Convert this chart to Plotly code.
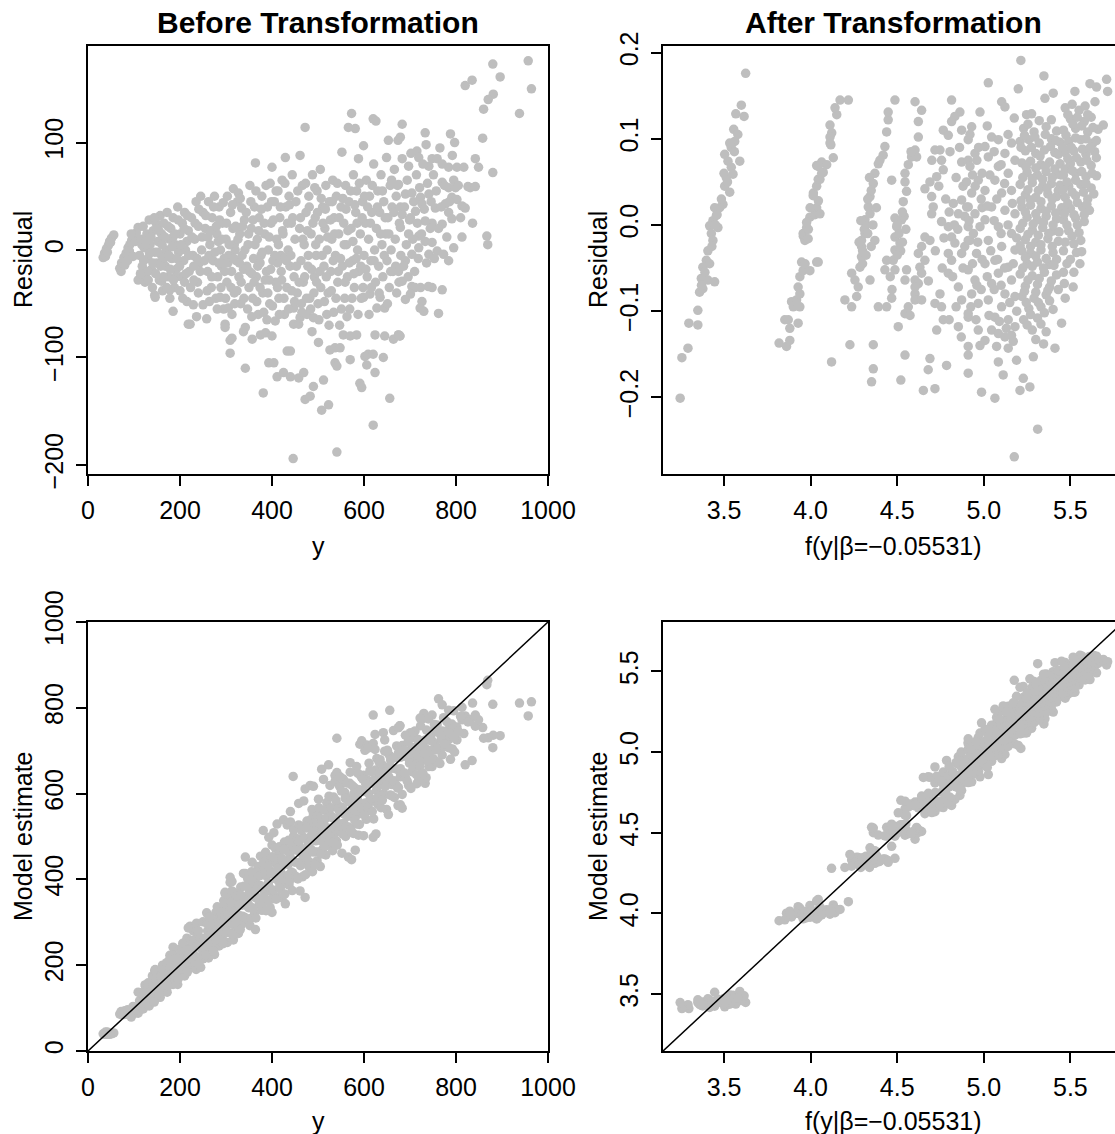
import plotly.graph_objects as go

# ---------------- data: BEFORE transformation (y, residual) ----------------
tl_a = [(33,-7),(36,-3),(40,1),(44,4),(47,8),(51,11),(56,14),(38,-6),(42,-2),(49,7)]
tl_b = [(69,-17),(73,-12),(78,-7),(83,-3),(87,2),(91,5),(95,9),(100,12),(105,16),(109,21),
        (72,-20),(80,-14),(90,-1),(98,-6),(103,8),(86,-10),(94,15)]
tl_c = [(112,-5),(115,10),(118,-15),(120,22),(122,2),(125,-25),(128,15),(130,-8),(133,28),(135,5),
        (138,-18),(140,-35),(142,18),(145,-2),(145,-42),(148,25),(150,-12),(152,8),(155,-28),(157,32),
        (160,-5),(160,15),(162,-38),(165,25),(168,-15),(170,0),(172,35),(175,-25),(177,10),(178,-45),
        (180,20),(182,-8),(185,-57),(185,30),(188,-35),(190,5),(192,-18),(195,40),(197,-2),(200,15),
        (200,-38),(203,-25),(205,25),(208,-10),(210,35),(212,0),(215,-48),(218,18),(220,-20),(222,-69),
        (225,30),(228,-5),(229,-51),(232,10),(235,45),(236,-62),(238,-30),(240,22),(242,-12),(245,50),
        (247,0),(250,-51),(250,35),(109,-28),(124,-30),(146,-44),(160,-29),(178,-37),(218,-69),
        (130,-20),(165,-8),(190,-25),(210,-30),(230,-15),(150,20),(185,12),(215,8),(240,-40)]
tl_c_fill = [(114,-22),(117,5),(121,-10),(126,8),(131,-28),(134,-3),(137,12),(141,-12),(144,30),(147,-22),
             (151,-2),(154,18),(158,-15),(161,5),(164,-25),(167,12),(171,-35),(174,22),(176,-5),(179,-18),
             (183,3),(186,-28),(189,15),(193,-8),(196,28),(199,-15),(202,5),(206,-45),(209,20),(213,-22),
             (216,32),(219,-5),(223,-35),(226,12),(230,-28),(233,25),(237,-8),(241,38),(244,-20),(248,12)]
tl_d = [(255,20),(258,-64),(260,-20),(262,45),(265,5),(268,-35),(270,30),(272,-10),(275,50),(278,-45),
        (280,15),(282,-25),(285,40),(287,-44),(288,0),(290,-15),(292,25),(295,-55),(298,-69),(298,-72),
        (300,10),(302,-30),(303,50),(305,-54),(306,-5),(309,-84),(309,-96),(310,35),(312,-20),(313,-60),
        (313,-82),(315,20),(316,57),(318,-40),(320,0),(322,-10),(325,45),(327,53),(328,-25),(330,15),
        (332,-50),(334,39),(335,-5),(338,-76),(340,28),(342,-110),(342,-72),(345,-15),(348,5),(350,-35),
        (352,60),(355,20),(357,-83),(358,-45),(360,-8),(362,40),(364,81),(366,-25),(368,10),(370,-60),
        (372,30),(375,-79),(376,-5),(378,50),(380,-40),(381,-133),(384,15),(386,-77),(388,-20),(389,-65),
        (390,40),(392,0),(393,-105),(395,-50),(396,62),(398,25),(400,77),(400,-80),(402,-10),(404,-105),
        (405,45),(407,-66),(408,-30),(410,10),(411,-118),(413,55),(415,-45),(417,30),(419,-5),(420,-20),
        (422,65),(424,15),(425,-114),(427,-60),(429,86),(430,40),(432,-35),(433,-94),(435,0),(437,50),
        (439,-15),(440,-118),(440,-94),(442,25),(444,70),(446,-194),(447,-54),(447,-69),(448,-25),(450,10),
        (263,-5),(283,8),(296,-8),(318,5),(338,-18),(356,-22),(374,-12),(394,-28),(412,-12),(428,-8)]
tl_d_fill = [(253,-10),(256,32),(259,-38),(261,12),(264,-48),(267,18),(269,-25),(273,40),(276,-2),(279,22),
             (281,-55),(284,-12),(286,28),(289,-35),(291,10),(294,44),(297,-20),(299,-45),(301,25),(304,-12),
             (307,5),(311,-35),(314,42),(317,-8),(319,-50),(321,22),(324,-38),(326,10),(329,-12),(331,48),
             (333,-30),(336,22),(339,-45),(341,0),(344,35),(347,-55),(349,15),(351,-20),(354,45),(356,-62),
             (359,28),(361,-30),(363,5),(365,55),(367,-48),(369,-15),(371,18),(374,-35),(377,38),(379,-2),
             (382,-58),(383,25),(385,-28),(387,60),(391,-40),(394,12),(397,-18),(399,45),(401,-52),(403,28),
             (406,-5),(409,55),(412,-35),(414,5),(416,-60),(418,40),(421,-28),(423,18),(426,-45),(428,62),
             (431,-10),(434,25),(436,-55),(438,42),(441,-5),(443,-38),(445,30),(449,-48)]
tl_e = [(452,45),(455,-40),(458,-119),(458,-69),(460,20),(461,88),(461,-63),(463,-10),(465,-58),(466,60),
        (468,-30),(469,-114),(470,5),(472,114),(472,-139),(474,35),(476,-60),(478,-15),(480,50),(482,-45),
        (483,-136),(485,15),(487,-76),(488,70),(490,-127),(490,-63),(492,-25),(494,30),(496,-5),(498,55),
        (500,-50),(501,-86),(503,10),(505,75),(506,-35),(508,-149),(510,40),(512,-121),(513,-15),(515,20),
        (517,60),(519,-60),(520,0),(522,-40),(523,-144),(525,45),(526,-93),(528,-20),(530,10),(532,65),
        (534,-58),(535,30),(537,-105),(537,-91),(538,-5),(540,50),(541,-188),(541,-108),(543,-30),(545,15),
        (547,-70),(548,-91),(550,40),(552,91),(553,-15),(555,-79),(556,25),(558,-45),(560,60),(562,5),
        (564,-25),(566,114),(567,45),(569,-55),(570,-80),(570,-102),(572,20),(573,127),(575,-10),(577,70),
        (579,-35),(581,113),(582,35),(584,-79),(584,55),(586,0),(588,85),(589,-20),(591,-124),(592,15),
        (594,-45),(595,-128),(597,45),(599,97),(599,-44),(600,-5),(602,-99),(603,25),(605,65),(606,-107),
        (607,-25),(609,-97),(610,10),(612,50),(613,-41),(615,-10),(617,35),(620,122),(620,-97),(620,-163),
        (621,80),(623,0),(624,-79),(624,-114),(625,-30),(626,120),(627,20),(628,-54),(630,55),(632,-15),
        (634,35),(635,-44),(637,70),(639,5),(641,-25),(642,-100),(643,45),(645,-54),(645,-80),(647,15),
        (649,86),(650,-10),(652,30),(653,102),(655,-35),(656,-138),(657,60),(659,0),(661,40),(663,-20),
        (664,-83),(666,75),(668,10),(670,50),(671,-40),(674,102),(675,-79),(677,25),(678,-80),(680,-5)]
tl_e_fill = [(453,-15),(456,55),(459,-30),(462,30),(464,-50),(467,10),(471,-25),(473,62),(475,-45),(477,18),
             (479,-5),(481,40),(484,-55),(486,-18),(489,25),(491,-40),(493,58),(495,5),(497,-30),(499,35),
             (502,-65),(504,-20),(507,48),(509,-5),(511,25),(514,-48),(516,38),(518,-25),(521,12),(524,-70),
             (527,28),(529,-38),(531,45),(533,-10),(536,15),(539,-45),(542,62),(544,-20),(546,30),(549,-8),
             (551,-55),(554,48),(557,5),(559,-30),(561,38),(563,-62),(565,18),(568,-12),(571,55),(574,-45),
             (576,8),(578,-22),(580,42),(583,-8),(585,25),(587,-60),(590,62),(593,-15),(596,30),(598,-35),
             (601,50),(604,-18),(608,40),(611,-60),(614,25),(616,-35),(618,60),(622,-10),(629,40),(633,-40),
             (636,15),(640,55),(644,-5),(646,30),(651,-50),(654,15),(658,-20),(660,65),(665,35),(669,-15),
             (673,60),(676,-30),(679,40)]
tl_f = [(683,117),(679,105),(733,109),(735,98),(788,108),(797,100),(715,92),(719,86),(748,85),(759,85),
        (770,80),(784,77),(802,77),(817,77),(741,78),(683,85),(697,78),(675,61),(690,52),(704,53),
        (723,49),(741,52),(770,63),(784,58),(799,58),(791,49),(802,47),(813,41),(820,39),(777,43),
        (755,39),(726,43),(712,36),(784,35),(791,29),(770,24),(748,25),(733,27),(701,30),(683,33),
        (679,21),(697,15),(719,13),(733,8),(748,7),(759,-1),(773,-4),(784,-10),(741,-4),(719,2),
        (704,-4),(690,-10),(675,-20),(683,-29),(704,-34),(723,-35),
        (957,176),(964,150),(938,127),(880,173),(896,161),(881,145),(870,140),(860,131),(820,153),(835,158),
        (858,104),(880,72),(842,85),(849,77),(831,58),(836,25),(813,12),(867,13),(869,5),(795,2),
        (762,-59),(770,-37),(748,-35),(726,-48),(730,-57),(711,-35),(701,-41),(690,-46),(675,-79),(678,-80),
        (826,59),(842,59),(740,-34),(722,-54)]
tl_f_fill = [(686,-15),(688,40),(692,5),(694,65),(696,-25),(699,28),(702,90),(706,10),(708,45),(710,-20),
             (714,70),(716,25),(718,-8),(721,58),(725,15),(728,80),(731,38),(736,-12),(738,62),(744,20),
             (746,45),(751,70),(753,-8),(757,55),(762,20),(765,95),(768,40),(775,60),(780,12),(786,45),
             (792,88),(795,65),(805,60),(810,30)]

# ---------------- data: AFTER transformation (f(y), residual) ----------------
tr_b1 = [(3.625,0.176),(3.600,0.139),(3.568,0.129),(3.616,0.126),(3.556,0.111),(3.562,0.097),(3.542,0.090),
         (3.533,0.095),(3.504,0.082),(3.591,0.074),(3.523,0.074),(3.542,0.067),(3.552,0.059),(3.513,0.055),
         (3.504,0.045),(3.533,0.038),(3.494,0.024),(3.475,0.020),(3.446,0.020),(3.456,0.011),(3.436,0.005),
         (3.465,-0.003),(3.417,-0.001),(3.427,-0.010),(3.436,-0.018),(3.407,-0.030),(3.398,-0.041),
         (3.378,-0.049),(3.417,-0.045),(3.369,-0.062),(3.407,-0.064),(3.446,-0.066),(3.359,-0.078),
         (3.378,-0.074),(3.349,-0.099),(3.297,-0.114),(3.349,-0.116),(3.292,-0.143),(3.257,-0.154),
         (3.247,-0.201),(3.485,0.030),(3.520,0.050),(3.450,0.000),(3.390,-0.055),(3.430,-0.025),
         (3.560,0.085),(3.580,0.105),(3.370,-0.070),(3.500,0.060),(3.460,0.012)]
tr_b2 = [(3.818,-0.137),(3.861,-0.141),(3.880,-0.134),(3.851,-0.110),(3.871,-0.110),(3.928,-0.114),
         (3.900,-0.095),(3.938,-0.095),(3.890,-0.089),(3.919,-0.087),(3.938,-0.080),(3.928,-0.072),
         (3.938,-0.060),(3.957,-0.053),(3.948,-0.043),(3.996,-0.053),(4.035,-0.043),(3.968,-0.045),
         (3.958,-0.013),(3.967,-0.018),(3.957,-0.010),(3.977,-0.003),(3.986,-0.016),(3.996,0.009),
         (3.987,-0.005),(3.977,0.003),(4.035,0.020),(4.025,0.012),(3.997,0.020),(4.015,0.034),
         (4.045,0.028),(4.016,0.037),(4.035,0.045),(4.044,0.053),(4.054,0.053),(4.035,0.069),
         (4.073,0.061),(4.093,0.070),(4.131,0.078),(4.112,0.095),(4.122,0.107),(4.112,0.116),
         (4.151,0.128),(4.141,0.136),(4.170,0.145),(4.218,0.145),(4.064,0.073),(4.044,0.068),
         (4.064,0.060),(4.054,0.013),(4.044,-0.043),(4.117,0.093),(4.112,0.102),(3.880,-0.120)]
tr_b3 = [(4.121,-0.159),(4.198,-0.087),(4.237,-0.095),(4.266,-0.083),(4.275,-0.072),(4.256,-0.064),
         (4.237,-0.056),(4.285,-0.049),(4.294,-0.037),(4.294,-0.025),(4.294,-0.018),(4.314,-0.010),
         (4.314,0.006),(4.343,0.013),(4.333,0.021),(4.343,0.033),(4.362,0.048),(4.371,0.060),
         (4.391,0.071),(4.419,0.081),(4.429,0.091),(4.439,0.108),(4.448,0.122),(4.448,0.131),
         (4.487,0.145),(4.343,-0.064),(4.371,-0.018),(4.468,0.052),(4.227,-0.139),(4.362,-0.139),
         (4.362,-0.167),(4.352,-0.182),(4.391,-0.095),(4.439,-0.095),(4.468,-0.085),(4.320,0.000),
         (4.300,-0.030),(4.330,0.030),(4.350,0.040),(4.310,-0.005),(4.400,0.075),(4.280,-0.020),
         (4.300,-0.045),(4.320,-0.035),(4.350,-0.025),(4.330,-0.010),(4.360,0.000),(4.290,0.005),
         (4.340,0.055),(4.380,0.020)]
tr_b4 = [(4.603,0.143),(4.641,0.133),(4.622,0.120),(4.622,0.102),(4.603,0.087),(4.612,0.079),
         (4.583,0.079),(4.564,0.070),(4.545,0.060),(4.545,0.050),(4.554,0.039),(4.535,0.027),
         (4.487,0.008),(4.525,0.006),(4.497,-0.002),(4.487,-0.014),(4.516,-0.021),(4.487,-0.029),
         (4.477,-0.041),(4.439,-0.041),(4.429,-0.052),(4.487,-0.052),(4.554,-0.052),(4.545,-0.064),
         (4.603,-0.064),(4.622,-0.068),(4.603,-0.080),(4.603,-0.087),(4.564,-0.095),(4.545,-0.103),
         (4.574,-0.105),(4.506,-0.118),(4.545,-0.151),(4.521,-0.180),(4.510,-0.010),(4.530,-0.020),
         (4.500,0.000),(4.540,0.010),(4.520,-0.030),(4.500,-0.035),(4.530,0.015),(4.550,-0.005),
         (4.460,-0.060),(4.470,-0.075),(4.580,0.085)]
tr_b5 = [(4.814,0.145),(4.862,0.131),(4.833,0.126),(4.814,0.120),(4.766,0.110),(4.795,0.104),
         (4.872,0.110),(4.718,0.087),(4.747,0.087),(4.805,0.085),(4.756,0.075),(4.872,0.073),
         (4.910,0.075),(4.766,0.064),(4.728,0.056),(4.689,0.050),(4.660,0.042),(4.699,0.033),
         (4.708,0.021),(4.699,0.013),(4.756,0.004),(4.795,-0.002),(4.814,-0.014),(4.833,-0.021),
         (4.795,-0.033),(4.814,-0.041),(4.872,-0.033),(4.910,-0.018),(4.910,-0.002),(4.853,0.013),
         (4.824,0.025),(4.872,0.029),(4.910,0.021),(4.660,-0.014),(4.689,-0.018),(4.641,-0.025),
         (4.622,-0.033),(4.660,-0.041),(4.631,-0.049),(4.641,-0.056),(4.603,-0.072),(4.641,-0.087),
         (4.718,-0.091),(4.747,-0.080),(4.756,-0.095),(4.728,-0.122),(4.766,-0.110),(4.795,-0.056),
         (4.853,-0.072),(4.872,-0.087),(4.910,-0.107),(4.853,-0.118),(4.910,-0.141),(4.689,-0.155),
         (4.679,-0.168),(4.651,-0.192),(4.718,-0.190),(4.785,-0.163),(4.740,0.045),(4.780,0.030),
         (4.840,0.055),(4.880,0.045),(4.770,-0.015),(4.850,-0.005),(4.890,0.010),(4.830,0.000),
         (4.800,0.015),(4.760,-0.050),(4.820,-0.060),(4.880,-0.050),(4.720,-0.030),(4.680,-0.065),
         (4.840,-0.095),(4.700,0.075),(4.860,0.090),(4.890,-0.025),(4.800,-0.110),(4.870,-0.130)]
tr_da = [(4.930,0.114),(4.910,0.099),(4.949,0.083),(4.920,0.068),(4.968,0.052),(4.930,0.037),
         (4.901,0.021),(4.949,0.013),(4.978,-0.002),(4.920,-0.018),(4.958,-0.033),(4.910,-0.052),
         (4.949,-0.064),(4.930,-0.080),(4.968,-0.091),(4.910,-0.103),(4.978,-0.140),(4.910,-0.151),
         (4.910,-0.172),(4.987,-0.194),(4.968,-0.122),(4.978,0.131),(4.990,0.060),(4.990,0.020),
         (4.950,0.045),(4.990,-0.040),(4.940,-0.010),(4.900,0.050),(4.970,0.090),(4.960,-0.070)]
tr_db = [(5.026,0.165),(5.103,0.143),(5.122,0.137),(5.176,0.124),(5.007,0.091),(5.045,0.102),
         (5.084,0.099),(5.026,0.079),(5.122,0.083),(5.160,0.095),(5.084,0.068),(5.141,0.060),
         (5.064,0.052),(5.007,0.040),(5.103,0.037),(5.160,0.040),(5.045,0.021),(5.122,0.017),
         (5.180,0.013),(5.007,0.006),(5.084,-0.002),(5.160,-0.010),(5.026,-0.018),(5.103,-0.025),
         (5.180,-0.029),(5.064,-0.041),(5.141,-0.049),(5.007,-0.045),(5.084,-0.056),(5.160,-0.064),
         (5.045,-0.068),(5.122,-0.080),(5.180,-0.083),(5.026,-0.087),(5.103,-0.095),(5.064,-0.107),
         (5.141,-0.110),(5.180,-0.118),(5.045,-0.122),(5.084,-0.126),(5.122,-0.130),(5.160,-0.128),
         (5.007,-0.134),(5.074,-0.141),(5.141,-0.143),(5.189,-0.157),(5.084,-0.159),(5.112,-0.174),
         (5.064,-0.201)]
tr_ab_fill = [(4.92,0.105),(4.96,0.075),(4.935,0.058),(4.985,0.030),(4.915,0.005),(4.965,-0.020),
              (4.935,-0.045),(4.985,-0.075),(4.925,-0.095),(4.955,-0.110),(5.02,0.115),(5.06,0.085),
              (5.10,0.070),(5.14,0.105),(5.18,0.075),(5.035,0.058),(5.075,0.030),(5.12,0.048),
              (5.165,0.025),(5.02,0.022),(5.06,0.005),(5.10,-0.010),(5.14,0.000),(5.19,-0.015),
              (5.04,-0.030),(5.08,-0.040),(5.12,-0.050),(5.17,-0.045),(5.02,-0.060),(5.06,-0.075),
              (5.10,-0.070),(5.15,-0.090),(5.19,-0.100),(5.03,-0.105),(5.09,-0.112),(5.13,-0.120),
              (5.17,-0.135)]
tr_dc = [(5.214,0.191),(5.199,0.158),(5.247,0.128),(5.276,0.129),(5.353,0.147),(5.401,0.153),(5.347,0.173),
         (5.23,0.112),(5.29,0.108),(5.36,0.114),(5.42,0.109),
         (5.21,0.097),(5.26,0.099),(5.32,0.095),(5.39,0.100),(5.44,0.096),
         (5.24,0.086),(5.30,0.083),(5.35,0.087),(5.41,0.084),
         (5.22,0.072),(5.27,0.074),(5.33,0.070),(5.38,0.073),(5.44,0.071),
         (5.25,0.061),(5.31,0.058),(5.36,0.062),(5.42,0.059),
         (5.21,0.047),(5.28,0.049),(5.34,0.045),(5.39,0.048),(5.44,0.046),
         (5.24,0.035),(5.30,0.032),(5.37,0.036),(5.42,0.033),
         (5.22,0.021),(5.27,0.023),(5.33,0.019),(5.39,0.022),(5.45,0.020),
         (5.25,0.009),(5.31,0.006),(5.36,0.010),(5.42,0.007),
         (5.21,-0.004),(5.28,-0.006),(5.34,-0.003),(5.40,-0.007),
         (5.24,-0.017),(5.30,-0.020),(5.37,-0.016),(5.43,-0.019),
         (5.22,-0.030),(5.27,-0.033),(5.33,-0.029),(5.40,-0.032),
         (5.25,-0.045),(5.31,-0.043),(5.38,-0.046),
         (5.21,-0.057),(5.28,-0.059),(5.35,-0.055),(5.42,-0.058),
         (5.24,-0.071),(5.31,-0.069),(5.38,-0.072),
         (5.22,-0.083),(5.29,-0.085),(5.36,-0.081),
         (5.26,-0.097),(5.33,-0.095),(5.40,-0.098),
         (5.23,-0.110),(5.31,-0.108),(5.28,-0.122),(5.36,-0.124),
         (5.286,-0.153),(5.266,-0.188),(5.228,-0.178),(5.209,-0.192),(5.311,-0.237),(5.176,-0.269),
         (5.411,-0.143),(5.449,-0.114)]
tr_dc_fill = [(5.255,0.117),(5.32,0.121),(5.39,0.122),(5.235,0.104),(5.295,0.102),(5.355,0.105),
              (5.415,0.098),(5.215,0.090),(5.275,0.090),(5.325,0.080),(5.385,0.091),(5.43,0.082),
              (5.245,0.067),(5.30,0.066),(5.355,0.068),(5.41,0.065),(5.225,0.055),(5.28,0.054),
              (5.34,0.053),(5.395,0.055),(5.445,0.058),(5.255,0.041),(5.315,0.040),(5.365,0.042),
              (5.43,0.040),(5.215,0.028),(5.27,0.029),(5.33,0.027),(5.395,0.030),(5.24,0.015),
              (5.30,0.013),(5.36,0.016),(5.415,0.014),(5.225,0.002),(5.285,0.001),(5.345,0.003),
              (5.40,0.000),(5.255,-0.011),(5.315,-0.012),(5.375,-0.010),(5.435,-0.008),(5.21,-0.024),
              (5.27,-0.025),(5.33,-0.023),(5.395,-0.025),(5.24,-0.038),(5.30,-0.036),(5.36,-0.039),
              (5.42,-0.040),(5.225,-0.050),(5.28,-0.048),(5.345,-0.050),(5.405,-0.047),(5.255,-0.064),
              (5.32,-0.062),(5.39,-0.065),(5.235,-0.077),(5.30,-0.078),(5.37,-0.076),(5.43,-0.075),
              (5.245,-0.090),(5.315,-0.090),(5.38,-0.088),(5.27,-0.104),(5.35,-0.102),(5.25,-0.116),
              (5.33,-0.115),(5.30,-0.133),(5.345,-0.138)]
tr_dd = [(5.526,0.155),(5.613,0.164),(5.651,0.160),(5.709,0.169),(5.715,0.155),(5.642,0.143),
         (5.690,0.116),(5.651,0.057),(5.565,-0.031),(5.555,-0.045),(5.516,-0.072),
         (5.47,0.136),(5.55,0.133),(5.50,0.123),(5.58,0.120),(5.62,0.125),
         (5.46,0.110),(5.53,0.112),(5.60,0.108),(5.66,0.111),
         (5.49,0.097),(5.56,0.099),(5.63,0.095),
         (5.47,0.084),(5.52,0.086),(5.59,0.082),(5.64,0.085),
         (5.50,0.071),(5.56,0.073),(5.62,0.069),
         (5.46,0.058),(5.53,0.060),(5.59,0.056),
         (5.49,0.045),(5.56,0.047),(5.62,0.043),
         (5.47,0.032),(5.53,0.034),(5.60,0.030),
         (5.50,0.019),(5.57,0.021),(5.61,0.017),
         (5.46,0.006),(5.53,0.008),(5.58,0.004),
         (5.49,-0.007),(5.55,-0.009),(5.47,-0.020),(5.52,-0.022),
         (5.50,-0.040),(5.46,-0.055),(5.47,-0.085)]
tr_dd_fill = [(5.51,0.140),(5.585,0.138),(5.485,0.128),(5.54,0.125),(5.60,0.128),(5.515,0.117),
              (5.565,0.115),(5.63,0.113),(5.475,0.104),(5.53,0.101),(5.59,0.100),(5.65,0.098),
              (5.505,0.090),(5.57,0.088),(5.615,0.090),(5.455,0.090),(5.485,0.077),(5.535,0.078),
              (5.595,0.075),(5.65,0.078),(5.47,0.065),(5.51,0.063),(5.565,0.062),(5.625,0.060),
              (5.48,0.050),(5.53,0.052),(5.59,0.048),(5.455,0.040),(5.51,0.038),(5.575,0.038),
              (5.635,0.036),(5.485,0.025),(5.54,0.026),(5.595,0.024),(5.465,0.013),(5.52,0.012),
              (5.58,0.012),(5.48,0.000),(5.54,0.000),(5.51,-0.013),(5.56,-0.018),(5.46,-0.030),
              (5.535,-0.032),(5.48,-0.045),(5.52,-0.055),(5.465,-0.068)]

before_pts = tl_a + tl_b + tl_c + tl_c_fill + tl_d + tl_d_fill + tl_e + tl_e_fill + tl_f + tl_f_fill
after_pts = (tr_b1 + tr_b2 + tr_b3 + tr_b4 + tr_b5 + tr_da + tr_db + tr_ab_fill
             + tr_dc + tr_dc_fill + tr_dd + tr_dd_fill)

y_obs = [p[0] for p in before_pts]
resid_before = [p[1] for p in before_pts]
est_before = [p[0] - p[1] for p in before_pts]      # model estimate = y - residual

fy_obs = [p[0] for p in after_pts]
resid_after = [p[1] for p in after_pts]
est_after = [p[0] - p[1] for p in after_pts]

tl_xticks = [0, 200, 400, 600, 800, 1000]
tl_yticks = [-200, -100, 0, 100]
tr_xticks = [3.5, 4.0, 4.5, 5.0, 5.5]
tr_yticks = [-0.2, -0.1, 0.0, 0.1, 0.2]
bl_ticks = [0, 200, 400, 600, 800, 1000]
br_ticks = [3.5, 4.0, 4.5, 5.0, 5.5]

# ---------------- figure ----------------
W, H = 1115, 1134
FONT = "Liberation Sans, Arial, Helvetica, sans-serif"
PT = "#BEBEBE"

def px_x(v):
    return v / W

def px_y(v):
    return 1 - v / H

fig = go.Figure()
mk = dict(color=PT, size=9.5, line=dict(width=0))
fig.add_trace(go.Scatter(x=y_obs, y=resid_before, mode="markers", marker=mk, xaxis="x", yaxis="y"))
fig.add_trace(go.Scatter(x=fy_obs, y=resid_after, mode="markers", marker=mk, xaxis="x2", yaxis="y2"))
fig.add_trace(go.Scatter(x=y_obs, y=est_before, mode="markers", marker=mk, xaxis="x3", yaxis="y3"))
fig.add_trace(go.Scatter(x=[0, 1000], y=[0, 1000], mode="lines", line=dict(color="black", width=1.5),
                         xaxis="x3", yaxis="y3"))
fig.add_trace(go.Scatter(x=fy_obs, y=est_after, mode="markers", marker=mk, xaxis="x4", yaxis="y4"))
fig.add_trace(go.Scatter(x=[3.1478, 5.8], y=[3.1478, 5.8], mode="lines", line=dict(color="black", width=1.5),
                         xaxis="x4", yaxis="y4"))

def ax(domain, rng, ticks, fmt=None, is_y=False, mirror=True, anchor=None):
    d = dict(domain=domain, range=rng, tickmode="array", tickvals=ticks, automargin=False,
             showline=True, linecolor="black", linewidth=1.5, mirror=mirror,
             ticks="outside", ticklen=10, tickwidth=1.5, tickcolor="black",
             showgrid=False, zeroline=False, anchor=anchor,
             tickfont=dict(family=FONT, size=25, color="black"))
    if fmt:
        d["tickformat"] = fmt
    if is_y:
        d["tickangle"] = -90
    d["ticklabelstandoff"] = 3
    return d

xl = [px_x(88), px_x(548)]
xr = [px_x(663), 1.0]
yt = [px_y(474), px_y(46)]
yb = [px_y(1051), px_y(622)]

fig.update_layout(
    width=W, height=H, autosize=False, margin=dict(l=0, r=0, t=0, b=0, pad=0, autoexpand=False),
    paper_bgcolor="white", plot_bgcolor="white", showlegend=False,
    xaxis=ax(xl, [0, 1000], tl_xticks, anchor="y"),
    yaxis=ax(yt, [-208.4, 189.8], tl_yticks, is_y=True, anchor="x"),
    xaxis2=ax(xr, [3.1478, 5.7575], tr_xticks, fmt=".1f", anchor="y2"),
    yaxis2=ax(yt, [-0.289, 0.2077], tr_yticks, fmt=".1f", is_y=True, mirror=False, anchor="x2"),
    xaxis3=ax(xl, [0, 1000], bl_ticks, anchor="y3"),
    yaxis3=ax(yb, [0, 1000], bl_ticks, is_y=True, anchor="x3"),
    xaxis4=ax(xr, [3.1478, 5.7575], br_ticks, fmt=".1f", anchor="y4"),
    yaxis4=ax(yb, [3.148, 5.806], br_ticks, fmt=".1f", is_y=True, mirror=False, anchor="x4"),
)

def txt(s, x, y, size=25, bold=False, angle=0):
    return dict(text=f"<b>{s}</b>" if bold else s, x=px_x(x), y=px_y(y), xref="paper", yref="paper",
                showarrow=False, textangle=angle, xanchor="center", yanchor="middle",
                font=dict(family=FONT, size=size, color="black"))

ann = [
    txt("Before Transformation", 318, 22, size=30, bold=True),
    txt("After Transformation", 893, 22, size=30, bold=True),
    txt("y", 318, 546),
    txt("f(y|β=−0.05531)", 893, 546),
    txt("y", 318, 1121),
    txt("f(y|β=−0.05531)", 893, 1121),
    txt("Residual", 23, 260, angle=-90),
    txt("Residual", 598, 260, angle=-90),
    txt("Model estimate", 23, 836, angle=-90),
    txt("Model estimate", 598, 836, angle=-90),
]
fig.update_layout(annotations=ann)

fig.write_html("out.html", config={"responsive": False, "displayModeBar": False},
               post_script="document.body.style.margin='0px';document.body.style.padding='0px';"
                           "document.body.style.overflow='hidden';")
